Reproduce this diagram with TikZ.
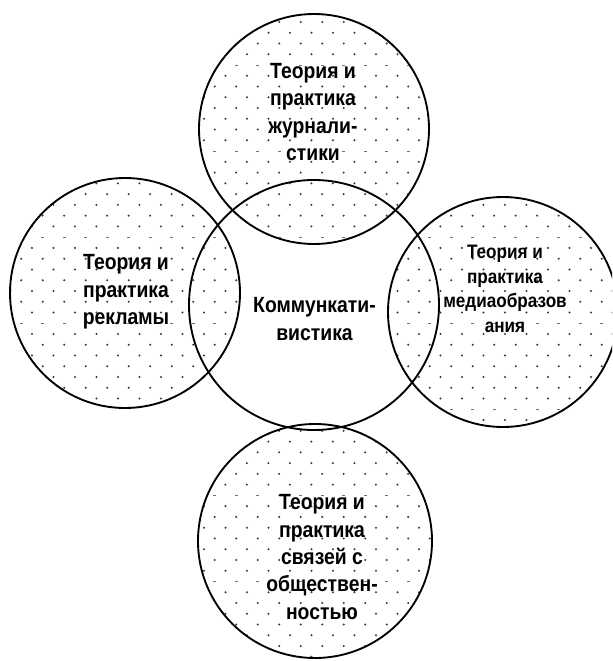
\documentclass[tikz,border=0pt]{standalone}
\usepackage{fontspec}
\setmainfont{Liberation Sans}[FakeStretch=0.88]
\begin{document}
\begin{tikzpicture}[x=0.75pt,y=-0.75pt,
  ring/.style={circle,draw=black,line width=1.4pt,inner sep=0pt},
  lbl/.style={align=center,inner sep=0pt,font=\bfseries\fontsize{16.5pt}{20.6pt}\selectfont},
  lblsmall/.style={align=center,inner sep=0pt,font=\bfseries\fontsize{14.6pt}{18.4pt}\selectfont},
  dotc/.style={fill=black!78},
  dashc/.style={fill=black!55}]
\useasboundingbox (0,0) rectangle (612,661);
\clip (0,0) rectangle (612,661);
\newcommand\mydots[3]{%
 \begin{scope}
 \clip (#1,#2) circle[radius=#3*0.75pt];
 \pgfmathtruncatemacro\mA{max(0,floor((#2-#3-0.44)/10.76))}
 \pgfmathtruncatemacro\mB{ceil((#2+#3-0.44)/10.76)}
 \pgfmathtruncatemacro\kA{floor((#1-#3-97)/21.5)}
 \pgfmathtruncatemacro\kB{ceil((#1+#3-85)/21.5)}
 \foreach \m in {\mA,...,\mB}{
   \pgfmathsetmacro\yy{0.44+10.76*\m}
   \pgfmathsetmacro\xo{85.7+10.75*mod(\m,2)}
   \pgfmathtruncatemacro\dsh{mod(\m,8)==6}
   \foreach \k in {\kA,...,\kB}{
     \ifnum\dsh=1
       \fill[dashc] (\xo+21.5*\k-1.6,\yy-0.45) rectangle (\xo+21.5*\k+1.6,\yy+0.45);
     \else
       \fill[dotc] (\xo+21.5*\k,\yy) circle[radius=0.85pt];
     \fi
   }
 }
 \end{scope}}
% dotted fills of the four outer circles
\mydots{314}{129}{115}
\mydots{125}{293}{115}
\mydots{503}{312}{115}
\mydots{315}{541}{117}
% circles
\node[ring,minimum size=172.5pt] (ctop) at (314,129) {};
\node[ring,minimum size=172.5pt] (cleft) at (125,293) {};
\node[ring,minimum size=172.5pt] (cright) at (503,312) {};
\node[ring,minimum size=175.5pt] (cbottom) at (315,541) {};
\node[ring,minimum size=187.5pt] (ccenter) at (314,305) {};
% labels
\node[lbl] (ttop) at (313,112) {Теория и\\практика\\журнали-\\стики};
\node[lbl] (tleft) at (126,292) {Теория и\\практика\\рекламы};
\node[lbl] (tcenter) at (314.5,319) {Коммункати-\\вистика};
\node[lblsmall] (tright) at (505,289) {Теория и\\практика\\медиаобразов\\ания};
\node[lbl] (tbottom) at (322,557) {Теория и\\практика\\связей с\\обществен-\\ностью};
\end{tikzpicture}
\end{document}
